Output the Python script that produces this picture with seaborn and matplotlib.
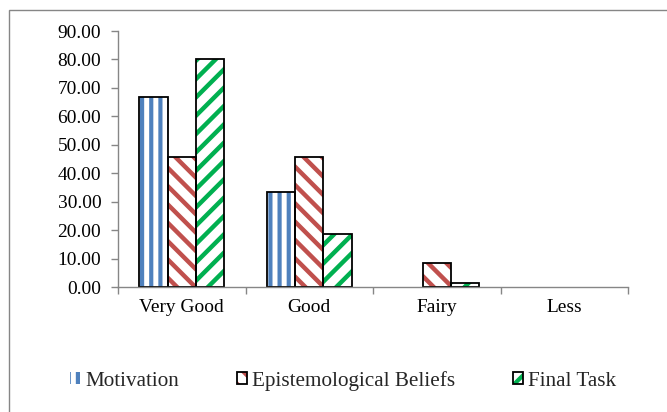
import matplotlib
matplotlib.use("Agg")
import matplotlib.pyplot as plt
import numpy as np
import pandas as pd
import seaborn as sns
from matplotlib.patches import Rectangle, Patch
from matplotlib.ticker import FormatStrFormatter, FixedLocator

# ---- data ----
categories = ["Very Good", "Good", "Fairy", "Less"]
series_names = ["Motivation", "Epistemological Beliefs", "Final Task"]
motivation = [66.67, 33.33, 0.0, 0.0]
epistemological = [45.83, 45.83, 8.33, 0.0]
final_task = [80.0, 18.5, 1.5, 0.0]
yticks = [0, 10, 20, 30, 40, 50, 60, 70, 80, 90]

colors = ["#4F81BD", "#C0504D", "#00B050"]
hatches = ["||", "\\\\", "//"]

DPI = 110
s = 100.0 / DPI          # keep pixel sizes as designed at 100 dpi
hatch_lw = [3.0 * s, 3.2 * s, 3.2 * s]

sns.set_theme(style="white")
plt.rcParams["font.family"] = ["Liberation Serif", "DejaVu Serif"]
plt.rcParams["hatch.linewidth"] = 3.0 * s

df = pd.DataFrame({
    "Category": categories * 3,
    "Series": sum([[n] * len(categories) for n in series_names], []),
    "Value": motivation + epistemological + final_task,
})

W, H = 667, 412
fig = plt.figure(figsize=(W / DPI, H / DPI), dpi=DPI)
fig.patch.set_facecolor("white")
ax = fig.add_axes([118 / W, 1 - 287 / H, (628 - 118) / W, (287 - 31) / H])

sns.barplot(data=df, x="Category", y="Value", hue="Series", order=categories,
            hue_order=series_names, palette=colors, width=0.667, gap=0,
            errorbar=None, saturation=1, legend=False, ax=ax)

for i, cont in enumerate(ax.containers):
    for bar in cont:
        bar.set_facecolor("white")
        bar.set_edgecolor(colors[i])
        bar.set_hatch(hatches[i])
        bar.set_linewidth(0)
        if hasattr(bar, "set_hatch_linewidth"):
            bar.set_hatch_linewidth(hatch_lw[i])
        if bar.get_height() > 0:
            ax.add_patch(Rectangle(bar.get_xy(), bar.get_width(), bar.get_height(),
                                   fill=False, edgecolor="black", linewidth=1.3 * s,
                                   zorder=bar.get_zorder() + 0.1))

ax.set_xlim(-0.5, len(categories) - 0.5)
ax.set_ylim(0, 90)
ax.set_yticks(yticks)
ax.yaxis.set_major_formatter(FormatStrFormatter("%.2f"))
ax.xaxis.set_minor_locator(FixedLocator(np.arange(-0.5, len(categories), 1.0)))
ax.set_xlabel("")
ax.set_ylabel("")

grey = "#868686"
for sp in ["top", "right"]:
    ax.spines[sp].set_visible(False)
for sp in ["left", "bottom"]:
    ax.spines[sp].set_color(grey)
    ax.spines[sp].set_linewidth(1.0 * s)

ax.tick_params(axis="y", which="major", direction="out", length=5 * s, width=1 * s,
               color=grey, labelsize=14 * s, pad=7 * s, left=True, labelcolor="black")
ax.tick_params(axis="x", which="major", length=0, labelsize=14 * s, pad=9 * s,
               labelcolor="black")
ax.tick_params(axis="x", which="minor", direction="out", length=5 * s, width=1 * s,
               color=grey, bottom=True)

# legend
handles = []
for i in range(3):
    hp = Patch(facecolor="white", edgecolor=colors[i], hatch=hatches[i], linewidth=0)
    if hasattr(hp, "set_hatch_linewidth"):
        hp.set_hatch_linewidth(hatch_lw[i])
    if i == 0:
        handles.append(hp)
    else:
        handles.append((hp, Patch(fill=False, edgecolor="black", linewidth=1.3 * s)))
fig.legend(handles, series_names, loc="center left",
           bbox_to_anchor=(70 / W, 1 - 381 / H), bbox_transform=fig.transFigure,
           ncol=3, frameon=False, fontsize=15.2 * s, handlelength=0.5,
           handleheight=0.5, handletextpad=0.25, columnspacing=2.7,
           borderpad=0, borderaxespad=0)

# outer chart frame
fig.add_artist(Rectangle((8.5 / W, -0.05), 1.2, 1 - 9.5 / H + 0.05,
                         transform=fig.transFigure, fill=False,
                         edgecolor=grey, linewidth=1.0 * s))

fig.savefig("out.png", dpi=DPI)
